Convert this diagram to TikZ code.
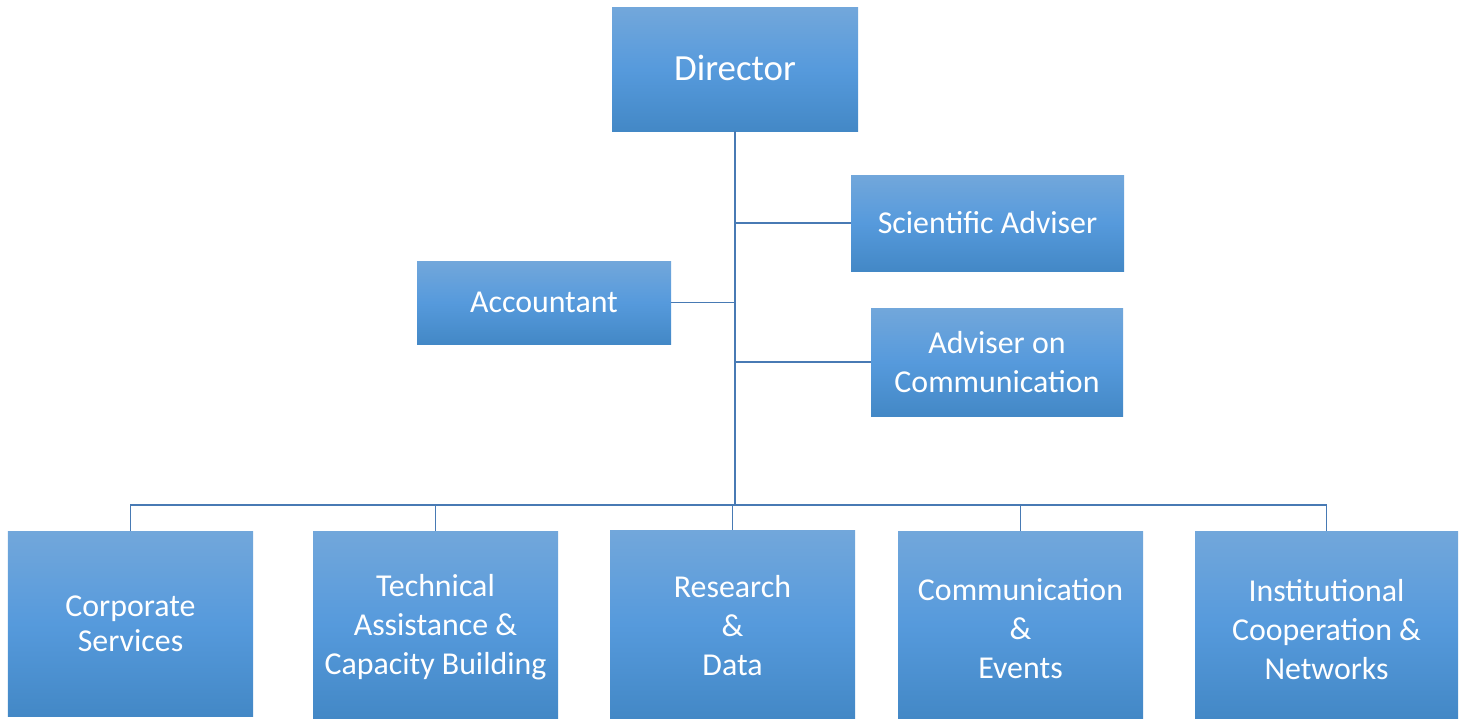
\documentclass[tikz,border=0pt]{standalone}
\usepackage{fontspec}
\setmainfont{Carlito}
\definecolor{btop}{RGB}{114,167,219}
\definecolor{bmid}{RGB}{86,154,220}
\definecolor{bbot}{RGB}{67,136,198}
\definecolor{lnc}{RGB}{72,122,180}
\newcommand\lowtext[2]{\raisebox{-#1}[\height][\depth]{\begin{tabular}{@{}c@{}}#2\end{tabular}}}
\begin{document}
\begin{tikzpicture}[x=1bp,y=-1bp,
  box/.style={rectangle, inner sep=0pt, align=center, text=white,
    top color=btop, bottom color=bbot, middle color=bmid,
    font=\fontsize{32}{39}\selectfont},
  link/.style={draw=lnc, line width=1.6bp},
  trunk/.style={draw=lnc, line width=2.2bp}]
\useasboundingbox (0,0) rectangle (1462,719);
\node[box, minimum width=246bp, minimum height=123bp, font=\fontsize{37}{44}\selectfont] (dir) at (735,69.5) {\lowtext{2bp}{Director}};
\node[box, minimum width=273bp, minimum height=96bp] (sci) at (987.5,223) {\lowtext{3bp}{Scientific Adviser}};
\node[box, minimum width=254bp, minimum height=83bp] (acc) at (544,302.5) {\lowtext{2bp}{Accountant}};
\node[box, minimum width=252bp, minimum height=108bp] (adv) at (997,362) {Adviser on\\Communication};
\node[box, minimum width=245bp, minimum height=185bp, font=\fontsize{32}{35}\selectfont] (corp) at (130.5,623.5) {Corporate\\Services};
\node[box, minimum width=245bp, minimum height=187bp] (tech) at (435.5,624.5) {\lowtext{3bp}{Technical\\Assistance \&\\Capacity Building}};
\node[box, minimum width=245bp, minimum height=188bp] (res) at (732.5,624) {\lowtext{5bp}{Research\\\&\\Data}};
\node[box, minimum width=245bp, minimum height=187bp] (comm) at (1020.5,624.5) {\lowtext{7bp}{Communication\\\&\\Events}};
\node[box, minimum width=263bp, minimum height=187bp] (inst) at (1326.5,624.5) {\lowtext{8bp}{Institutional\\Cooperation \&\\Networks}};
\coordinate (bus) at (735,505);
\draw[trunk] (dir.south) -- (bus);
\draw[link] (sci.west) -- (sci.west -| dir.south);
\draw[link] (acc.east) -- (acc.east -| dir.south);
\draw[link] (adv.west) -- (adv.west -| dir.south);
\foreach \n in {corp,tech,res,comm,inst}{
  \draw[link] (\n.north) |- (bus);
}
\end{tikzpicture}
\end{document}
